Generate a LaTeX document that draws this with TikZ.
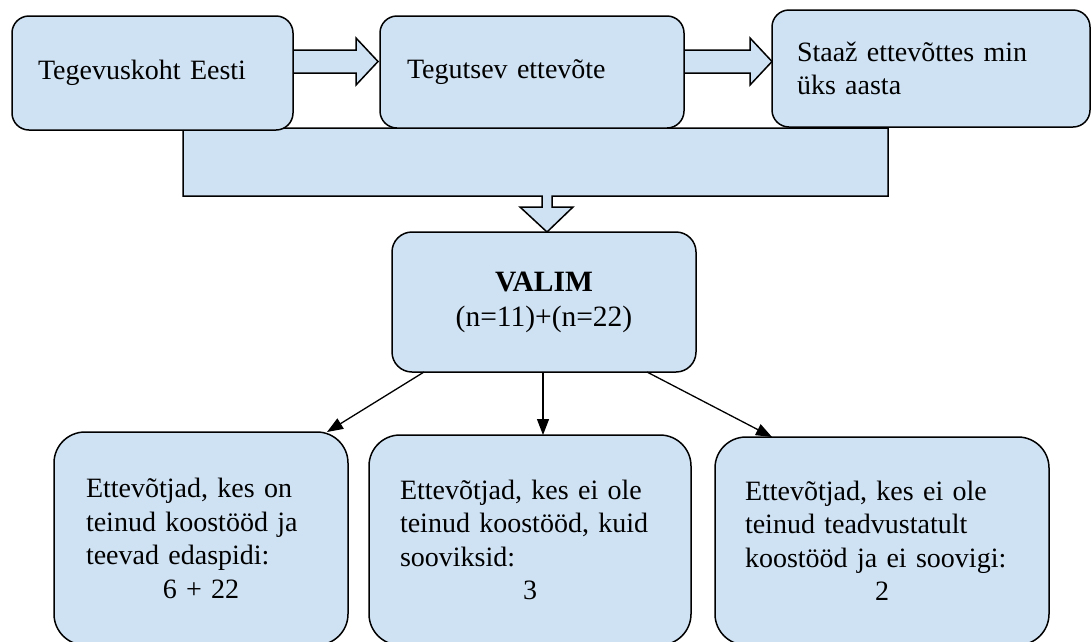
\documentclass[tikz,border=0pt]{standalone}
\usepackage{fontspec}
\setmainfont{Liberation Serif}
\usetikzlibrary{arrows.meta,calc}
\definecolor{boxfill}{RGB}{207,226,243}
\begin{document}
\begin{tikzpicture}[x=1pt,y=-1pt,
  box/.style={draw=black,fill=boxfill,line width=1.5pt,rounded corners=17pt,outer sep=0pt,inner ysep=0pt,font=\fontsize{28}{33.5}\selectfont,align=left},
  blk/.style={draw=black,fill=boxfill,line width=1.5pt,line join=miter},
  conn/.style={line width=1.3pt,-{Triangle[length=16pt,width=12pt]}}]
\clip (0,0) rectangle (1091,641);
\fill[white] (0,0) rectangle (1091,641);
% wide bar with down arrow
\draw[blk] (183,128) -- (888,128) -- (888,196) -- (552,196) -- (552,207) -- (573,207) -- (547,232) -- (520,207) -- (542,207) -- (542,196) -- (183,196) -- cycle;
% right block arrows
\draw[blk] (288,50) -- (356,50) -- (356,38) -- (378,61.5) -- (356,85) -- (356,73) -- (288,73) -- cycle;
\draw[blk] (679,50) -- (750,50) -- (750,38) -- (772,61.5) -- (750,85) -- (750,73) -- (679,73) -- cycle;
% top boxes
\node[box, minimum height=114pt, inner xsep=26pt, text width=229pt] (b1) at (152.5,73) {Tegevuskoht Eesti};
\node[box, minimum height=112pt, inner xsep=27pt, text width=250pt] (b2) at (532,72) {Tegutsev ettevõte};
\node[box, minimum height=117pt, inner xsep=25pt, text width=268pt] (b3) at (931,68.5) {Staaž ettevõttes min\\üks aasta};
% middle box
\node[box, rounded corners=20pt, minimum height=140pt, inner xsep=20pt, text width=264pt, align=center, font=\fontsize{29.5}{35}\selectfont] (valim) at (544,302) {\textbf{VALIM}\\(n=11)+(n=22)};
% bottom boxes
\node[box, rounded corners=31pt, minimum height=213pt, inner xsep=32pt, text width=230pt] (c1) at (201,538.5) {Ettevõtjad, kes on\\teinud koostööd ja\\teevad edaspidi:\\\makebox[230pt]{6 + 22}};
\node[box, rounded corners=31pt, minimum height=210pt, inner xsep=31pt, text width=260pt] (c2) at (530,540) {Ettevõtjad, kes ei ole\\teinud koostööd, kuid\\sooviksid:\\\makebox[260pt]{3}};
\node[box, rounded corners=31pt, minimum height=208pt, inner xsep=30pt, text width=274pt] (c3) at (882,541) {Ettevõtjad, kes ei ole\\teinud teadvustatult\\koostööd ja ei soovigi:\\\makebox[274pt]{2}};
% connectors
\draw[conn] ([xshift=32pt]valim.south west) -- ([xshift=-21pt]c1.north east);
\draw[conn] ([xshift=-1pt]valim.south) -- ([xshift=-1pt]valim.south |- c2.north);
\draw[conn] ([xshift=-49pt]valim.south east) -- ([xshift=57pt]c3.north west);
\end{tikzpicture}
\end{document}
